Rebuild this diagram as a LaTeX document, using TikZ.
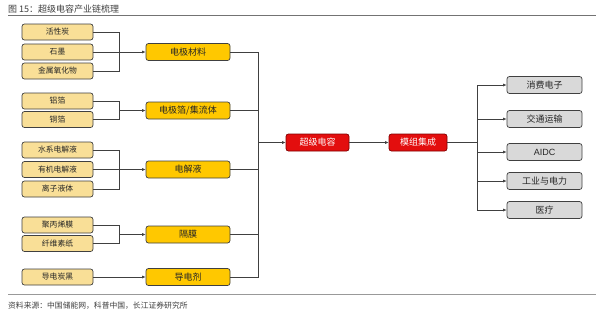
\documentclass[tikz,border=0pt]{standalone}
\usepackage{fontspec}
\newfontfamily\cjk{Noto Sans CJK SC}
\setmainfont{Liberation Sans}
\usetikzlibrary{arrows.meta}
\definecolor{srcbox}{HTML}{F9DF97}
\definecolor{midbox}{HTML}{FFC800}
\definecolor{redbox}{HTML}{E30E0E}
\definecolor{graybox}{HTML}{D9D9D9}
\definecolor{edge}{HTML}{404040}
\begin{document}
\begin{tikzpicture}[x=1pt,y=-1pt,
  base/.style={draw=edge, line width=0.7pt, rounded corners=2.5pt, minimum height=16pt, inner sep=0pt, font=\cjk\fontsize{7.8}{9}\selectfont, text=black!85},
  srcnode/.style={base, fill=srcbox, minimum width=71pt},
  midnode/.style={base, fill=midbox, minimum width=84pt, minimum height=17pt, font=\cjk\fontsize{9}{10}\selectfont},
  rednode/.style={base, fill=redbox, draw=red!50!black, minimum width=63pt, minimum height=17pt, text=white, font=\cjk\fontsize{9}{10}\selectfont},
  graynode/.style={base, fill=graybox, minimum width=75pt, minimum height=17pt, font=\cjk\fontsize{9}{10}\selectfont},
  conn/.style={draw=edge, line width=0.6pt},
  arr/.style={conn, -{Latex[length=3.5pt,width=3pt]}}
]
\useasboundingbox (0,0) rectangle (600,314);
\fill[white] (0,0) rectangle (600,314);
% header
\node[anchor=west, inner sep=0pt, font=\cjk\fontsize{9}{10}\selectfont, text=black!75] (title) at (8,9) {图\ 15：超级电容产业链梳理};
\draw[black!55, line width=0.8pt] (8,15.5) -- (596,15.5);
\draw[black!40, line width=0.8pt] (8,294) -- (596,294);
\node[anchor=west, inner sep=0pt, font=\cjk\fontsize{7.8}{9}\selectfont, text=black!75] (src) at (8,306) {资料来源：中国储能网，科普中国，长江证券研究所};
% source nodes
\node[srcnode] (a1) at (57.5,32) {活性炭};
\node[srcnode] (a2) at (57.5,52) {石墨};
\node[srcnode] (a3) at (57.5,71) {金属氧化物};
\node[srcnode] (b1) at (57.5,101) {铝箔};
\node[srcnode] (b2) at (57.5,119.5) {铜箔};
\node[srcnode] (c1) at (57.5,150) {水系电解液};
\node[srcnode] (c2) at (57.5,169.5) {有机电解液};
\node[srcnode] (c3) at (57.5,189) {离子液体};
\node[srcnode] (d1) at (57.5,225) {聚丙烯膜};
\node[srcnode] (d2) at (57.5,243.5) {纤维素纸};
\node[srcnode] (e1) at (57.5,277) {导电炭黑};
% middle nodes
\node[midnode] (m1) at (188,52) {电极材料};
\node[midnode] (m2) at (188,110.5) {电极箔/集流体};
\node[midnode] (m3) at (188,169.5) {电解液};
\node[midnode] (m4) at (188,234.5) {隔膜};
\node[midnode] (m5) at (188,277) {导电剂};
% center
\node[rednode] (sc) at (317.5,142.5) {超级电容};
\node[rednode, minimum width=58pt] (mod) at (418,142.5) {模组集成};
% right nodes
\node[graynode] (r1) at (544.5,85) {消费电子};
\node[graynode] (r2) at (544.5,119) {交通运输};
\node[graynode, font=\fontsize{9}{10}\selectfont] (r3) at (544.5,152) {AIDC};
\node[graynode] (r4) at (544.5,181) {工业与电力};
\node[graynode] (r5) at (544.5,210) {医疗};
% coordinates
\coordinate (bx) at (119,0);
\coordinate (bus) at (258,0);
\coordinate (rbus) at (477,0);
% bracket groups
\draw[conn] (a1.east) -| (bx |- a1) |- (a3.east);
\draw[conn] (a2.east) -- (bx |- a2);
\draw[arr] (bx |- m1) -- (m1.west);
\draw[conn] (b1.east) -| (bx |- b1) |- (b2.east);
\draw[arr] (bx |- m2) -- (m2.west);
\draw[conn] (c1.east) -| (bx |- c1) |- (c3.east);
\draw[conn] (c2.east) -- (bx |- c2);
\draw[arr] (bx |- m3) -- (m3.west);
\draw[conn] (d1.east) -| (bx |- d1) |- (d2.east);
\draw[arr] (bx |- m4) -- (m4.west);
\draw[arr] (e1.east) -- (m5.west);
% bus to super capacitor
\draw[conn] (m1.east) -| (bus |- m1) |- (m5.east);
\draw[conn] (m2.east) -- (bus |- m2);
\draw[conn] (m3.east) -- (bus |- m3);
\draw[conn] (m4.east) -- (bus |- m4);
\draw[arr] (bus |- sc) -- (sc.west);
\draw[arr] (sc.east) -- (mod.west);
% right bus
\draw[conn] (mod.east) -- (rbus |- mod);
\draw[conn] (rbus |- r1) -- (rbus |- r5);
\draw[arr] (rbus |- r1) -- (r1.west);
\draw[arr] (rbus |- r2) -- (r2.west);
\draw[arr] (rbus |- r3) -- (r3.west);
\draw[arr] (rbus |- r4) -- (r4.west);
\draw[arr] (rbus |- r5) -- (r5.west);
\end{tikzpicture}
\end{document}
